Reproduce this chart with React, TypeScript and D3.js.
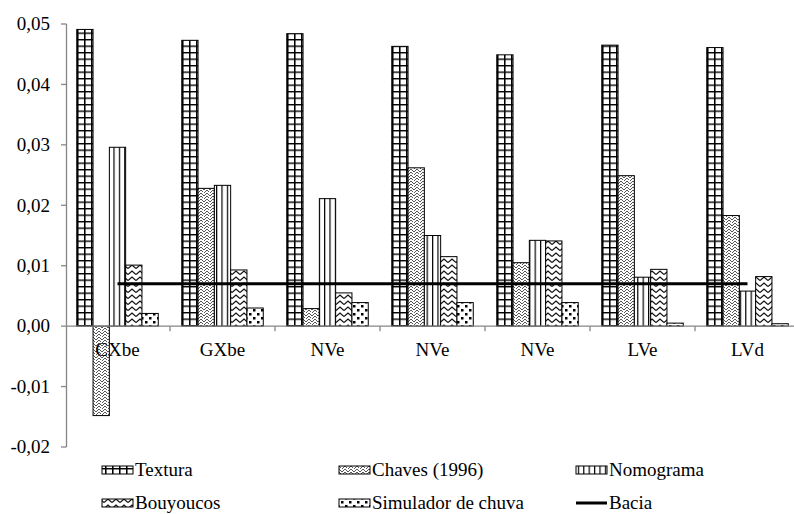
import React, { useRef, useEffect } from 'react';
import * as d3 from 'd3';

const categories = ['CXbe', 'GXbe', 'NVe', 'NVe', 'NVe', 'LVe', 'LVd'];
const seriesNames = ['Textura', 'Chaves (1996)', 'Nomograma', 'Bouyoucos', 'Simulador de chuva'];
const textura = [0.0491, 0.0473, 0.0484, 0.0463, 0.0449, 0.0465, 0.0461];
const chaves = [-0.0148, 0.0228, 0.0029, 0.0262, 0.0105, 0.0249, 0.0183];
const nomograma = [0.0296, 0.0233, 0.0211, 0.015, 0.0142, 0.0081, 0.0058];
const bouyoucos = [0.0101, 0.0093, 0.0055, 0.0115, 0.0141, 0.0094, 0.0082];
const simulador = [0.0021, 0.003, 0.0039, 0.0039, 0.0039, 0.0005, 0.0004];
const bacia = [0.007, 0.007, 0.007, 0.007, 0.007, 0.007, 0.007];
const yTicks = [-0.02, -0.01, 0, 0.01, 0.02, 0.03, 0.04, 0.05];

const patternIds = ['pTextura', 'pChaves', 'pNomo', 'pBouy', 'pSim'];

const App: React.FC = () => {
  const svgRef = useRef<SVGSVGElement | null>(null);

  useEffect(() => {
    if (!svgRef.current) return;
    const svg = d3.select(svgRef.current);
    svg.selectAll('*').remove();

    const font = 'Liberation Serif, Times New Roman, serif';
    const axisColor = '#868686';

    // patterns
    const defs = svg.append('defs');
    const pt = defs.append('pattern').attr('id', 'pTextura').attr('patternUnits', 'userSpaceOnUse')
      .attr('width', 7).attr('height', 6.5);
    pt.append('rect').attr('width', 7).attr('height', 6.5).attr('fill', '#fff');
    pt.append('path').attr('d', 'M0,0.5H7 M0.75,0V6.5').attr('stroke', '#000').attr('stroke-width', 1.6);

    const pc = defs.append('pattern').attr('id', 'pChaves').attr('patternUnits', 'userSpaceOnUse')
      .attr('width', 6).attr('height', 6);
    pc.append('rect').attr('width', 6).attr('height', 6).attr('fill', '#fff');
    pc.append('path').attr('d', 'M0,4 L3,1 L6,4 M0,7 L3,4 L6,7 M0,1 L1.5,-0.5')
      .attr('stroke', '#444').attr('stroke-width', 0.9).attr('fill', 'none');

    const pn = defs.append('pattern').attr('id', 'pNomo').attr('patternUnits', 'userSpaceOnUse')
      .attr('width', 5.4).attr('height', 6);
    pn.append('rect').attr('width', 5.4).attr('height', 6).attr('fill', '#fff');
    pn.append('path').attr('d', 'M0.6,0V6').attr('stroke', '#000').attr('stroke-width', 1.2);

    const pb = defs.append('pattern').attr('id', 'pBouy').attr('patternUnits', 'userSpaceOnUse')
      .attr('width', 8).attr('height', 6);
    pb.append('rect').attr('width', 8).attr('height', 6).attr('fill', '#fff');
    pb.append('path').attr('d', 'M0,4.5 L4,1 L8,4.5').attr('stroke', '#111').attr('stroke-width', 1.3).attr('fill', 'none');

    const ps = defs.append('pattern').attr('id', 'pSim').attr('patternUnits', 'userSpaceOnUse')
      .attr('width', 8).attr('height', 8);
    ps.append('rect').attr('width', 8).attr('height', 8).attr('fill', '#fff');
    ps.append('rect').attr('x', 1).attr('y', 1).attr('width', 2.5).attr('height', 2.5).attr('fill', '#000');
    ps.append('rect').attr('x', 5).attr('y', 5).attr('width', 2.5).attr('height', 2.5).attr('fill', '#000');

    const x0 = d3.scaleBand<number>()
      .domain(categories.map((_, i) => i))
      .range([65, 800]);

    const x1 = d3.scaleBand<string>()
      .domain(seriesNames)
      .range([0, x0.bandwidth()])
      .paddingInner(0)
      .paddingOuter(0.72);

    const y = d3.scaleLinear().domain([-0.02, 0.05]).range([447, 24]);

    const seriesValues = [textura, chaves, nomograma, bouyoucos, simulador];

    // bars
    seriesValues.forEach((vals, s) => {
      svg.append('g')
        .selectAll('rect')
        .data(vals)
        .enter()
        .append('rect')
        .attr('x', (_, i) => (x0(i) || 0) + (x1(seriesNames[s]) || 0))
        .attr('y', d => y(Math.max(0, d)))
        .attr('width', x1.bandwidth())
        .attr('height', d => Math.abs(y(d) - y(0)))
        .attr('fill', `url(#${patternIds[s]})`)
        .attr('stroke', '#000')
        .attr('stroke-width', 1);
    });

    // y axis
    svg.append('line')
      .attr('x1', 66.5).attr('x2', 66.5).attr('y1', y(0.05)).attr('y2', y(-0.02))
      .attr('stroke', axisColor).attr('stroke-width', 1.3);
    svg.append('g').selectAll('line').data(yTicks).enter().append('line')
      .attr('x1', 61).attr('x2', 66.5)
      .attr('y1', d => y(d)).attr('y2', d => y(d))
      .attr('stroke', axisColor).attr('stroke-width', 1.3);
    svg.append('g').selectAll('text').data(yTicks).enter().append('text')
      .attr('x', 50).attr('y', d => y(d)).attr('dy', '0.33em')
      .attr('text-anchor', 'end')
      .style('font-family', font).style('font-size', '19px')
      .text(d => d.toFixed(2).replace('.', ','));

    // x axis
    svg.append('line')
      .attr('x1', 66).attr('x2', 800).attr('y1', y(0)).attr('y2', y(0))
      .attr('stroke', axisColor).attr('stroke-width', 1.3);
    svg.append('g').selectAll('line').data(categories.map((_, i) => i).slice(1)).enter().append('line')
      .attr('x1', d => x0(d) || 0).attr('x2', d => x0(d) || 0)
      .attr('y1', y(0)).attr('y2', y(0) + 5)
      .attr('stroke', axisColor).attr('stroke-width', 1.3);
    svg.append('g').selectAll('text').data(categories).enter().append('text')
      .attr('x', (_, i) => (x0(i) || 0) + x0.bandwidth() / 2)
      .attr('y', 356)
      .attr('text-anchor', 'middle')
      .style('font-family', font).style('font-size', '19px')
      .text(d => d);

    // Bacia line
    const line = d3.line<number>()
      .x((_, i) => (x0(i) || 0) + x0.bandwidth() / 2)
      .y(d => y(d));
    svg.append('path')
      .attr('d', line(bacia) || '')
      .attr('fill', 'none')
      .attr('stroke', '#000')
      .attr('stroke-width', 3);

    // legend
    const legendItems = [...seriesNames, 'Bacia'];
    const legend = svg.append('g');
    legendItems.forEach((name, i) => {
      const col = i % 3;
      const row = Math.floor(i / 3);
      const lx = 102 + col * 237;
      const ly = 470 + row * 33;
      const g = legend.append('g');
      if (name === 'Bacia') {
        g.append('line').attr('x1', lx).attr('x2', lx + 31).attr('y1', ly).attr('y2', ly)
          .attr('stroke', '#000').attr('stroke-width', 3);
      } else {
        g.append('rect').attr('x', lx).attr('y', ly - 4).attr('width', 31).attr('height', 8)
          .attr('fill', `url(#${patternIds[i]})`).attr('stroke', '#000').attr('stroke-width', 1);
      }
      g.append('text').attr('x', lx + 33).attr('y', ly).attr('dy', '0.33em')
        .style('font-family', font).style('font-size', '19px')
        .text(name);
    });
  }, []);

  return (
    <svg ref={svgRef} width={794} height={514}
      style={{ position: 'absolute', left: 0, top: 0, background: '#fff' }}></svg>
  );
};

export default App;
